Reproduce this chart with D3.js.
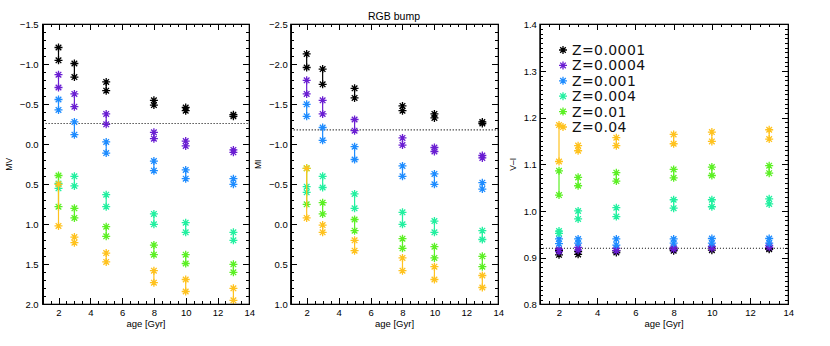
<!DOCTYPE html>
<html>
<head>
<meta charset="utf-8">
<script src="https://d3js.org/d3.v7.min.js"></script>
<style>
  body { margin: 0; background: #fff; }
  svg text { font-family: "Liberation Sans", Arial, sans-serif; fill: #000; }
  .axis path, .axis line { stroke: #000; stroke-width: 1; shape-rendering: crispEdges; }
  .axis text { font-size: 9.5px; }
</style>
</head>
<body>
<script>
// ages in Gyr and metallicities
var ages = [2, 3, 5, 8, 10, 13];
var zLabels = ["Z=0.0001", "Z=0.0004", "Z=0.001", "Z=0.004", "Z=0.01", "Z=0.04"];
var colors = ["#000000", "#6a1ed2", "#1e8cff", "#22f0a0", "#5cf024", "#ffc21e"];

// [low, high] per Z (rows) per age (columns)
var mvData = [
  [[-1.21, -1.05], [-1.01, -0.84], [-0.78, -0.67], [-0.55, -0.49], [-0.46, -0.42], [-0.37, -0.35]],
  [[-0.87, -0.71], [-0.63, -0.47], [-0.38, -0.25], [-0.15, -0.07], [-0.04, 0.02], [0.07, 0.10]],
  [[-0.56, -0.43], [-0.28, -0.12], [-0.03, 0.11], [0.21, 0.33], [0.32, 0.43], [0.43, 0.50]],
  [[0.49, 0.55], [0.40, 0.52], [0.63, 0.78], [0.87, 1.00], [0.98, 1.10], [1.10, 1.20]],
  [[0.39, 0.78], [0.80, 0.92], [1.03, 1.15], [1.26, 1.38], [1.38, 1.49], [1.50, 1.60]],
  [[0.50, 1.02], [1.16, 1.23], [1.36, 1.47], [1.58, 1.73], [1.69, 1.84], [1.80, 1.95]]
];
var miData = [
  [[-2.13, -1.96], [-1.94, -1.75], [-1.70, -1.58], [-1.48, -1.42], [-1.38, -1.33], [-1.28, -1.26]],
  [[-1.80, -1.63], [-1.55, -1.38], [-1.31, -1.17], [-1.08, -0.99], [-0.96, -0.91], [-0.86, -0.83]],
  [[-1.50, -1.35], [-1.21, -1.05], [-0.97, -0.81], [-0.73, -0.60], [-0.63, -0.50], [-0.52, -0.44]],
  [[-0.47, -0.40], [-0.60, -0.46], [-0.38, -0.20], [-0.15, 0.00], [-0.04, 0.10], [0.08, 0.19]],
  [[-0.70, -0.25], [-0.27, -0.13], [-0.06, 0.08], [0.18, 0.30], [0.28, 0.42], [0.40, 0.53]],
  [[-0.70, -0.08], [0.01, 0.10], [0.20, 0.33], [0.42, 0.58], [0.53, 0.69], [0.64, 0.79]]
];
var viData = [
  [[0.906, 0.915], [0.907, 0.913], [0.911, 0.915], [0.915, 0.918], [0.916, 0.920], [0.918, 0.920]],
  [[0.913, 0.918], [0.916, 0.922], [0.915, 0.920], [0.918, 0.922], [0.920, 0.924], [0.922, 0.926]],
  [[0.930, 0.940], [0.931, 0.940], [0.927, 0.940], [0.931, 0.940], [0.931, 0.941], [0.931, 0.941]],
  [[0.952, 0.957], [0.983, 1.000], [0.988, 1.007], [1.006, 1.024], [1.009, 1.024], [1.015, 1.026]],
  [[1.034, 1.086], [1.054, 1.072], [1.064, 1.082], [1.071, 1.089], [1.076, 1.094], [1.081, 1.097]],
  [[1.106, 1.184], [1.129, 1.140], [1.140, 1.157], [1.144, 1.164], [1.149, 1.169], [1.154, 1.174]]
];
// dotted reference levels for each panel
var refLines = [-0.26, -1.18, 0.92];

var width = 830, height = 346;
var yTop = 24.3, yBottom = 304.3;

var svg = d3.select("body").append("svg")
    .attr("width", width)
    .attr("height", height);

svg.append("rect").attr("width", width).attr("height", height).attr("fill", "#fff");

// asterisk symbol (psym=2 look)
var star = "M-4,0H4M0,-4V4M-2.8,-2.8L2.8,2.8M-2.8,2.8L2.8,-2.8";

var panels = [
  {x0: 42.6, x1: 249.3, dom: [-1.5, 2.0], data: mvData, label: "MV", lx: 12, major: 0.5, minor: 0.1, pad: 4},
  {x0: 290.7, x1: 498.3, dom: [-2.5, 1.0], data: miData, label: "MI", lx: 261, major: 0.5, minor: 0.1, pad: 3},
  {x0: 539.9, x1: 788.3, dom: [1.4, 0.8], data: viData, label: "V\u2013I", lx: 516, major: 0.1, minor: 0.01, pad: 3}
];

panels.forEach(function(p, pi) {
    var x = d3.scaleLinear().domain([1, 14]).range([p.x0, p.x1]);
    var y = d3.scaleLinear().domain(p.dom).range([yTop, yBottom]);
    var g = svg.append("g");

    var fmt = d3.format(".1f");
    var lo = Math.min(p.dom[0], p.dom[1]);
    var span = Math.abs(p.dom[1] - p.dom[0]);
    var yMajor = d3.range(0, Math.round(span / p.major) + 1)
        .map(function(i) { return +(lo + i * p.major).toFixed(3); });
    var yMinor = d3.range(0, Math.round(span / p.minor) + 1)
        .map(function(i) { return +(lo + i * p.minor).toFixed(4); });
    var xMajor = [2, 4, 6, 8, 10, 12, 14];
    var xMinor = d3.range(1, 14.01, 0.5);

    // minor ticks
    g.append("g").attr("class", "axis").attr("transform", "translate(0," + yBottom + ")")
        .call(d3.axisBottom(x).tickValues(xMinor).tickSize(-3).tickFormat(""));
    g.append("g").attr("class", "axis").attr("transform", "translate(0," + yTop + ")")
        .call(d3.axisTop(x).tickValues(xMinor).tickSize(-3).tickFormat(""));
    g.append("g").attr("class", "axis").attr("transform", "translate(" + p.x0 + ",0)")
        .call(d3.axisLeft(y).tickValues(yMinor).tickSize(-3).tickFormat(""));
    g.append("g").attr("class", "axis").attr("transform", "translate(" + p.x1 + ",0)")
        .call(d3.axisRight(y).tickValues(yMinor).tickSize(-3).tickFormat(""));

    // major ticks + labels
    g.append("g").attr("class", "axis").attr("transform", "translate(0," + yBottom + ")")
        .call(d3.axisBottom(x).tickValues(xMajor).tickSizeInner(-6).tickSizeOuter(0).tickPadding(5).tickFormat(d3.format("d")));
    g.append("g").attr("class", "axis").attr("transform", "translate(0," + yTop + ")")
        .call(d3.axisTop(x).tickValues(xMajor).tickSizeInner(-6).tickSizeOuter(0).tickFormat(""));
    g.append("g").attr("class", "axis").attr("transform", "translate(" + p.x0 + ",0)")
        .call(d3.axisLeft(y).tickValues(yMajor).tickSizeInner(-6).tickSizeOuter(0).tickPadding(p.pad).tickFormat(fmt));
    g.append("g").attr("class", "axis").attr("transform", "translate(" + p.x1 + ",0)")
        .call(d3.axisRight(y).tickValues(yMajor).tickSizeInner(-6).tickSizeOuter(0).tickFormat(""));

    // dotted reference line
    g.append("line")
        .attr("x1", p.x0).attr("x2", p.x1)
        .attr("y1", y(refLines[pi])).attr("y2", y(refLines[pi]))
        .attr("stroke", "#000").attr("stroke-width", 1.1)
        .attr("stroke-dasharray", "1,2");

    // data: vertical range lines and asterisks
    p.data.forEach(function(series, zi) {
        var sg = g.append("g").attr("stroke", colors[zi]);
        sg.selectAll("line").data(series).enter().append("line")
            .attr("x1", function(d, i) { return x(ages[i]); })
            .attr("x2", function(d, i) { return x(ages[i]); })
            .attr("y1", function(d) { return y(d[0]); })
            .attr("y2", function(d) { return y(d[1]); })
            .attr("stroke-width", 1.2);
        var pts = [];
        series.forEach(function(d, i) { pts.push([ages[i], d[0]]); pts.push([ages[i], d[1]]); });
        sg.selectAll("path").data(pts).enter().append("path")
            .attr("d", star)
            .attr("transform", function(d) { return "translate(" + x(d[0]) + "," + y(d[1]) + ")"; })
            .attr("fill", "none")
            .attr("stroke-width", 1.3);
    });

    // axis box
    g.append("rect")
        .attr("x", p.x0).attr("y", yTop)
        .attr("width", p.x1 - p.x0).attr("height", yBottom - yTop)
        .attr("fill", "none").attr("stroke", "#000").attr("stroke-width", 1.2);

    // axis titles
    g.append("text")
        .attr("x", (p.x0 + p.x1) / 2).attr("y", 327)
        .attr("text-anchor", "middle").style("font-size", "9.5px")
        .text("age [Gyr]");
    g.append("text")
        .attr("transform", "translate(" + p.lx + "," + (yTop + yBottom) / 2 + ") rotate(-90)")
        .attr("text-anchor", "middle").style("font-size", "8.5px")
        .text(p.label);
});

// title
svg.append("text")
    .attr("x", 394).attr("y", 20)
    .attr("text-anchor", "middle").style("font-size", "10.5px")
    .text("RGB bump");

// legend
var legend = svg.append("g");
zLabels.forEach(function(lab, i) {
    var ly = 50 + i * 15.4;
    legend.append("path")
        .attr("d", star)
        .attr("transform", "translate(563," + ly + ")")
        .attr("fill", "none").attr("stroke", colors[i]).attr("stroke-width", 1.3);
    legend.append("text")
        .attr("x", 572).attr("y", ly + 5)
        .style("font-family", "'DejaVu Sans', sans-serif")
        .style("font-size", "14px").style("letter-spacing", "0.4px").style("fill", "#111")
        .text(lab);
});
</script>
</body>
</html>
